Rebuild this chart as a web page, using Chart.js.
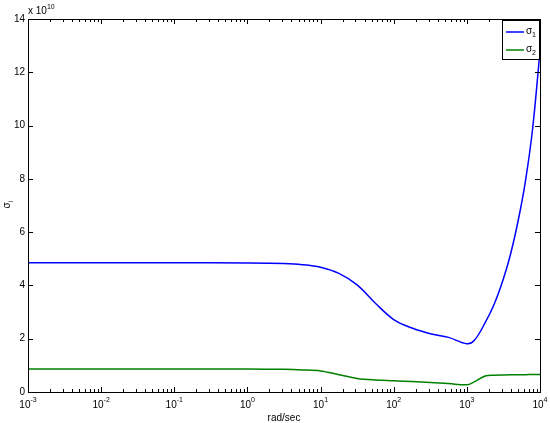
<!DOCTYPE html>
<html>
<head>
<meta charset="utf-8">
<script src="https://cdn.jsdelivr.net/npm/chart.js@4"></script>
<style>
  body { margin: 0; background: #fff; }
  canvas { display: block; }
</style>
</head>
<body>
<canvas id="sv" width="550" height="423"></canvas>
<script>
// frequency (rad/sec) and singular values (x 10^10)
const freq = [1e-3, 1e-2, 1e-1, 1, 3.16, 5.62, 10, 17.8, 31.6, 56.2, 100, 178, 316, 562, 1000, 1260, 1780, 2370, 3160, 3980, 5000, 6310, 7940, 10000];
const sigma1 = [4.85, 4.85, 4.85, 4.84, 4.82, 4.78, 4.68, 4.45, 4.02, 3.33, 2.72, 2.40, 2.19, 2.05, 1.81, 1.93, 2.60, 3.30, 4.25, 5.2, 6.4, 7.9, 9.9, 12.8];
const sigma2 = [0.86, 0.86, 0.86, 0.86, 0.85, 0.83, 0.79, 0.65, 0.51, 0.45, 0.42, 0.39, 0.36, 0.32, 0.27, 0.38, 0.60, 0.63, 0.64, 0.645, 0.645, 0.65, 0.655, 0.66];
const xDecades = [-3, -2, -1, 0, 1, 2, 3, 4];
const yTicks = [0, 2, 4, 6, 8, 10, 12, 14];
const seriesNames = ['1', '2'];
const seriesColors = ['#0000ff', '#008000'];

const FONT = 'Liberation Sans, Arial, sans-serif';

const matlabAxes = {
    id: 'matlabAxes',
    afterDraw(chart) {
        const ctx = chart.ctx;
        const a = chart.chartArea;
        const xs = chart.scales.x, ys = chart.scales.y;
        ctx.save();
        ctx.strokeStyle = '#000';
        ctx.fillStyle = '#000';
        ctx.lineWidth = 1;

        // box
        ctx.strokeRect(Math.round(a.left) + 0.5, Math.round(a.top) + 0.5,
            Math.round(a.right - a.left), Math.round(a.bottom - a.top));

        // x ticks (major + minor, bottom and top)
        ctx.beginPath();
        xDecades.forEach((d, i) => {
            const px = Math.round(xs.getPixelForValue(Math.pow(10, d))) + 0.5;
            ctx.moveTo(px, a.bottom); ctx.lineTo(px, a.bottom - 5);
            ctx.moveTo(px, a.top); ctx.lineTo(px, a.top + 5);
            if (i < xDecades.length - 1) {
                for (let m = 2; m <= 9; m++) {
                    const mx = Math.round(xs.getPixelForValue(m * Math.pow(10, d))) + 0.5;
                    ctx.moveTo(mx, a.bottom); ctx.lineTo(mx, a.bottom - 3);
                    ctx.moveTo(mx, a.top); ctx.lineTo(mx, a.top + 3);
                }
            }
        });
        // y ticks left and right
        yTicks.forEach(v => {
            const py = Math.round(ys.getPixelForValue(v)) + 0.5;
            ctx.moveTo(a.left, py); ctx.lineTo(a.left + 5, py);
            ctx.moveTo(a.right, py); ctx.lineTo(a.right - 5, py);
        });
        ctx.stroke();

        // y tick labels
        ctx.font = '10px ' + FONT;
        ctx.textAlign = 'right';
        ctx.textBaseline = 'middle';
        yTicks.forEach(v => {
            ctx.fillText(String(v), a.left - 3, ys.getPixelForValue(v));
        });

        // x tick labels 10^d
        xDecades.forEach(d => {
            const px = xs.getPixelForValue(Math.pow(10, d));
            ctx.font = '10px ' + FONT;
            const w1 = ctx.measureText('10').width;
            ctx.font = '7px ' + FONT;
            const w2 = ctx.measureText(String(d)).width;
            const x0 = px - (w1 + w2) / 2;
            ctx.textAlign = 'left';
            ctx.textBaseline = 'alphabetic';
            ctx.font = '10px ' + FONT;
            ctx.fillText('10', x0, a.bottom + 16);
            ctx.font = '7px ' + FONT;
            ctx.fillText(String(d), x0 + w1, a.bottom + 10);
        });

        // exponent label
        ctx.font = '10px ' + FONT;
        ctx.textAlign = 'left';
        ctx.fillText('x 10', a.left, a.top - 5);
        const wx = ctx.measureText('x 10').width;
        ctx.font = '7px ' + FONT;
        ctx.fillText('10', a.left + wx, a.top - 10);

        // x title
        ctx.font = '10px ' + FONT;
        ctx.textAlign = 'center';
        ctx.fillText('rad/sec', (a.left + a.right) / 2, a.bottom + 29);

        // y title
        ctx.save();
        ctx.translate(10, (a.top + a.bottom) / 2);
        ctx.rotate(-Math.PI / 2);
        ctx.font = '10px ' + FONT;
        ctx.textAlign = 'center';
        ctx.fillText('σ', 0, 0);
        ctx.font = '7px ' + FONT;
        ctx.textAlign = 'left';
        ctx.fillText('i', 3, 3);
        ctx.restore();

        // legend
        const lx = 502, ly = a.top + 1, lw = a.right - lx, lh = 39;
        ctx.fillStyle = '#fff';
        ctx.fillRect(lx, ly, lw, lh);
        ctx.strokeStyle = '#000';
        ctx.strokeRect(lx + 0.5, ly + 0.5, lw - 1, lh);
        seriesNames.forEach((n, i) => {
            const yy = ly + 12 + i * 18;
            ctx.strokeStyle = seriesColors[i];
            ctx.lineWidth = 1.5;
            ctx.beginPath();
            ctx.moveTo(lx + 4, yy); ctx.lineTo(lx + 22, yy);
            ctx.stroke();
            ctx.fillStyle = '#000';
            ctx.font = '10px ' + FONT;
            ctx.textAlign = 'left';
            ctx.textBaseline = 'alphabetic';
            ctx.fillText('σ', lx + 24, yy + 2);
            ctx.font = '7px ' + FONT;
            ctx.fillText(n, lx + 30, yy + 5);
        });
        ctx.restore();
    }
};

new Chart(document.getElementById('sv'), {
    type: 'line',
    data: {
        datasets: [
            {
                label: 'σ1',
                data: freq.map((f, i) => ({ x: f, y: sigma1[i] })),
                borderColor: seriesColors[0],
                borderWidth: 1.5,
                pointRadius: 0,
                tension: 0.35
            },
            {
                label: 'σ2',
                data: freq.map((f, i) => ({ x: f, y: sigma2[i] })),
                borderColor: seriesColors[1],
                borderWidth: 1.5,
                pointRadius: 0,
                tension: 0.35
            }
        ]
    },
    options: {
        responsive: false,
        animation: false,
        layout: { padding: { left: 28, top: 19, right: 10, bottom: 31 } },
        plugins: { legend: { display: false }, tooltip: { enabled: false } },
        scales: {
            x: { type: 'logarithmic', min: 1e-3, max: 1e4, display: false },
            y: { min: 0, max: 14, display: false }
        }
    },
    plugins: [matlabAxes]
});
</script>
</body>
</html>
